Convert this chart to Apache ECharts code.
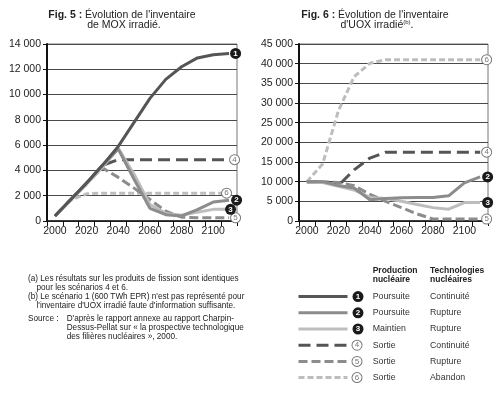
<!DOCTYPE html>
<html><head><meta charset="utf-8">
<script src="https://cdn.jsdelivr.net/npm/echarts@6/dist/echarts.min.js"></script>
<style>html,body{margin:0;padding:0;background:#fff}#c{width:500px;height:393px}</style>
</head><body><div id="c"></div>
<script>
// ---------- data ----------
const years = ['2000','2010','2020','2030','2040','2050','2060','2070','2080','2090','2100','2110'];

// Fig. 5 : MOX irradié (t)
const mox1 = [400, 1700, 3000, 4400, 5900, 7800, 9700, 11200, 12200, 12900, 13150, 13250];
const mox2 = [400, 1700, 3000, 4400, 5700, 3300, 1000, 500, 400, 900, 1500, 1650];
const mox3 = [400, 1650, 2900, 4250, 5750, 3700, 1300, 600, 450, 700, 920, 920];
const mox4 = [400, 1700, 3000, 4400, 4850, 4850, 4850, 4850, 4850, 4850, 4850, 4850];
const mox5 = [400, 1700, 3000, 4200, 3450, 2600, 1700, 780, 300, 250, 250, 250];
const mox6 = [400, 1650, 2150, 2200, 2200, 2200, 2200, 2200, 2200, 2200, 2200, 2200];

// Fig. 6 : UOX irradié (t)
const uox2 = [10000, 10000, 9000, 8400, 5400, 5700, 5900, 6000, 6000, 6400, 9700, 11200];
const uox3 = [10000, 9800, 8800, 7900, 6000, 5700, 5000, 4200, 3400, 3000, 4700, 4700];
const uox4 = [10000, 10000, 9000, 13000, 16000, 17500, 17500, 17500, 17500, 17500, 17500, 17500];
const uox5 = [10000, 10000, 9800, 9000, 6800, 5000, 3400, 1800, 500, 500, 500, 500];
const uox6 = [10000, 14500, 28000, 36700, 40100, 41000, 41000, 41000, 41000, 41000, 41000, 41000];

const moxMax = 14000, moxStep = 2000;
const uoxMax = 45000, uoxStep = 5000;

const scenarioIds = ['1','2','3','4','5','6'];
const production = ['Poursuite','Poursuite','Maintien','Sortie','Sortie','Sortie'];
const technologies = ['Continuité','Rupture','Rupture','Continuité','Rupture','Abandon'];

// ---------- styles ----------
const FONT = 'Liberation Sans, Arial, sans-serif';
const lineColors = ['#555555','#8c8c8c','#bdbdbd','#555555','#8c8c8c','#bdbdbd'];
const lineDash = ['solid','solid','solid',[12,6],[9,4],[6,3]];
const filledBadge = [true,true,true,false,false,false];

const badgeRich = {
  f: {width:11,height:11,lineHeight:11,borderRadius:6,backgroundColor:'#1a1a1a',color:'#fff',fontSize:8,fontWeight:'bold',fontFamily:FONT,align:'center'},
  o: {width:9,height:9,lineHeight:9,borderRadius:6,backgroundColor:'#fff',borderColor:'#777',borderWidth:1,color:'#777',fontSize:8,fontFamily:FONT,align:'center'}
};
function badge(i){ return (filledBadge[i] ? '{f|' : '{o|') + scenarioIds[i] + '}'; }

function fmt(v){
  if (v === 0) return '0';
  const k = Math.floor(v/1000), r = v % 1000;
  return k + ' ' + String(r).padStart(3,'0');
}

function mkSeries(idx, data, gi, offset){
  return {
    name: 'S' + scenarioIds[idx],
    type: 'line',
    xAxisIndex: gi, yAxisIndex: gi,
    data: data,
    symbol: 'none',
    z: filledBadge[idx] ? 3 : 2,
    lineStyle: {color: lineColors[idx], width: 3, type: lineDash[idx]},
    itemStyle: {color: lineColors[idx]},
    endLabel: {show: true, distance: 0, offset: offset || [0,0], formatter: () => badge(idx), rich: badgeRich}
  };
}

function xAxis(gi){
  return {
    type:'category', gridIndex: gi, data: years, boundaryGap: true,
    axisLine:{lineStyle:{color:'#111', width:1.5}},
    axisTick:{show:true, interval:0, length:5, lineStyle:{color:'#111'}},
    axisLabel:{interval:1, margin:5, color:'#222', fontSize:10.5, fontFamily:FONT},
    splitLine:{show:false}
  };
}
function yAxis(gi, max, step){
  return {
    type:'value', gridIndex: gi, min:0, max:max, interval:step,
    axisLine:{show:true, lineStyle:{color:'#111', width:2}},
    axisTick:{show:true, length:4, lineStyle:{color:'#111'}},
    axisLabel:{margin:6, color:'#222', fontSize:10.5, fontFamily:FONT, formatter: fmt},
    splitLine:{show:true, lineStyle:{color:'#4a4a4a', width:1}}
  };
}

const series = [
  mkSeries(5, mox6, 0, [-7,0]),
  mkSeries(4, mox5, 0, [2,0]),
  mkSeries(3, mox4, 0, [1,0]),
  mkSeries(2, mox3, 0, [-4,0]),
  mkSeries(1, mox2, 0, [2,0]),
  mkSeries(0, mox1, 0, [1,0]),
  mkSeries(5, uox6, 1, [2,0]),
  mkSeries(4, uox5, 1, [2,0]),
  mkSeries(3, uox4, 1, [2,0]),
  mkSeries(2, uox3, 1, [2,0]),
  mkSeries(1, uox2, 1, [2,0])
];

function txt(x, y, text, extra){
  return {type:'text', x:x, y:y, silent:true,
    style:Object.assign({text:text, fill:'#222', font:'8.2px ' + FONT, verticalAlign:'middle'}, extra||{})};
}

// legend table columns (text beside the library legend rows)
const legendTop = 286, rowStep = 16.2, firstRowY = 296.6;
const tableTexts = [];
production.forEach((p, i) => {
  tableTexts.push(txt(372.7, firstRowY + rowStep * i, p, {fill:'#333', font:'8.8px ' + FONT}));
  tableTexts.push(txt(430, firstRowY + rowStep * i, technologies[i], {fill:'#333', font:'8.8px ' + FONT}));
});

const chart = echarts.init(document.getElementById('c'), null, {renderer:'canvas'});
chart.setOption({
  animation:false,
  backgroundColor:'#fff',
  grid:[
    {left:47, top:44, width:190, height:177, show:true, borderColor:'#777', borderWidth:1, backgroundColor:'transparent'},
    {left:299, top:44, width:189, height:177, show:true, borderColor:'#777', borderWidth:1, backgroundColor:'transparent'}
  ],
  xAxis:[xAxis(0), xAxis(1)],
  yAxis:[yAxis(0, moxMax, moxStep), yAxis(1, uoxMax, uoxStep)],
  legend:{
    orient:'vertical', left:292, top:legendTop, itemWidth:49, itemHeight:14, itemGap:5, padding:5,
    selectedMode:false,
    data: scenarioIds.map(id => 'S' + id),
    lineStyle:{width:3},
    itemStyle:{opacity:0},
    formatter: function(name){
      return badge(scenarioIds.indexOf(name.slice(1)));
    },
    textStyle:{fontSize:8, color:'#333', fontFamily:FONT, rich: badgeRich}
  },
  graphic:[
    txt(122, 15, '{b|Fig. 5 :} Évolution de l\'inventaire', {align:'center', font:'10.5px '+FONT,
      rich:{b:{fontWeight:'bold', fontSize:10.5, fontFamily:FONT, fill:'#222'}}}),
    txt(124, 25.5, 'de MOX irradié.', {align:'center', font:'10.5px '+FONT}),
    txt(375, 15, '{b|Fig. 6 :} Évolution de l\'inventaire', {align:'center', font:'10.5px '+FONT,
      rich:{b:{fontWeight:'bold', fontSize:10.5, fontFamily:FONT, fill:'#222'}}}),
    txt(377, 25.5, 'd\'UOX irradié{sup|(b)}.', {align:'center', font:'10.5px '+FONT,
      rich:{sup:{fontSize:6, fontFamily:FONT, fill:'#222', verticalAlign:'top', lineHeight:12}}}),

    txt(28, 279, '(a) Les résultats sur les produits de fission sont identiques'),
    txt(36.5, 288, 'pour les scénarios 4 et 6.'),
    txt(28, 297, '(b) Le scénario 1 (600 TWh EPR) n\'est pas représenté pour'),
    txt(36.5, 306, 'l\'inventaire d\'UOX irradié faute d\'information suffisante.'),
    txt(28, 319, 'Source :'),
    txt(66.7, 319, 'D\'après le rapport annexe au rapport Charpin-'),
    txt(66.7, 328, 'Dessus-Pellat sur « la prospective technologique'),
    txt(66.7, 337, 'des filières nucléaires », 2000.'),

    txt(372.7, 271, 'Production', {font:'bold 8.5px '+FONT}),
    txt(372.7, 280, 'nucléaire', {font:'bold 8.5px '+FONT}),
    txt(430, 271, 'Technologies', {font:'bold 8.5px '+FONT}),
    txt(430, 280, 'nucléaires', {font:'bold 8.5px '+FONT})
  ].concat(tableTexts),
  series: series
});
</script>
</body></html>
